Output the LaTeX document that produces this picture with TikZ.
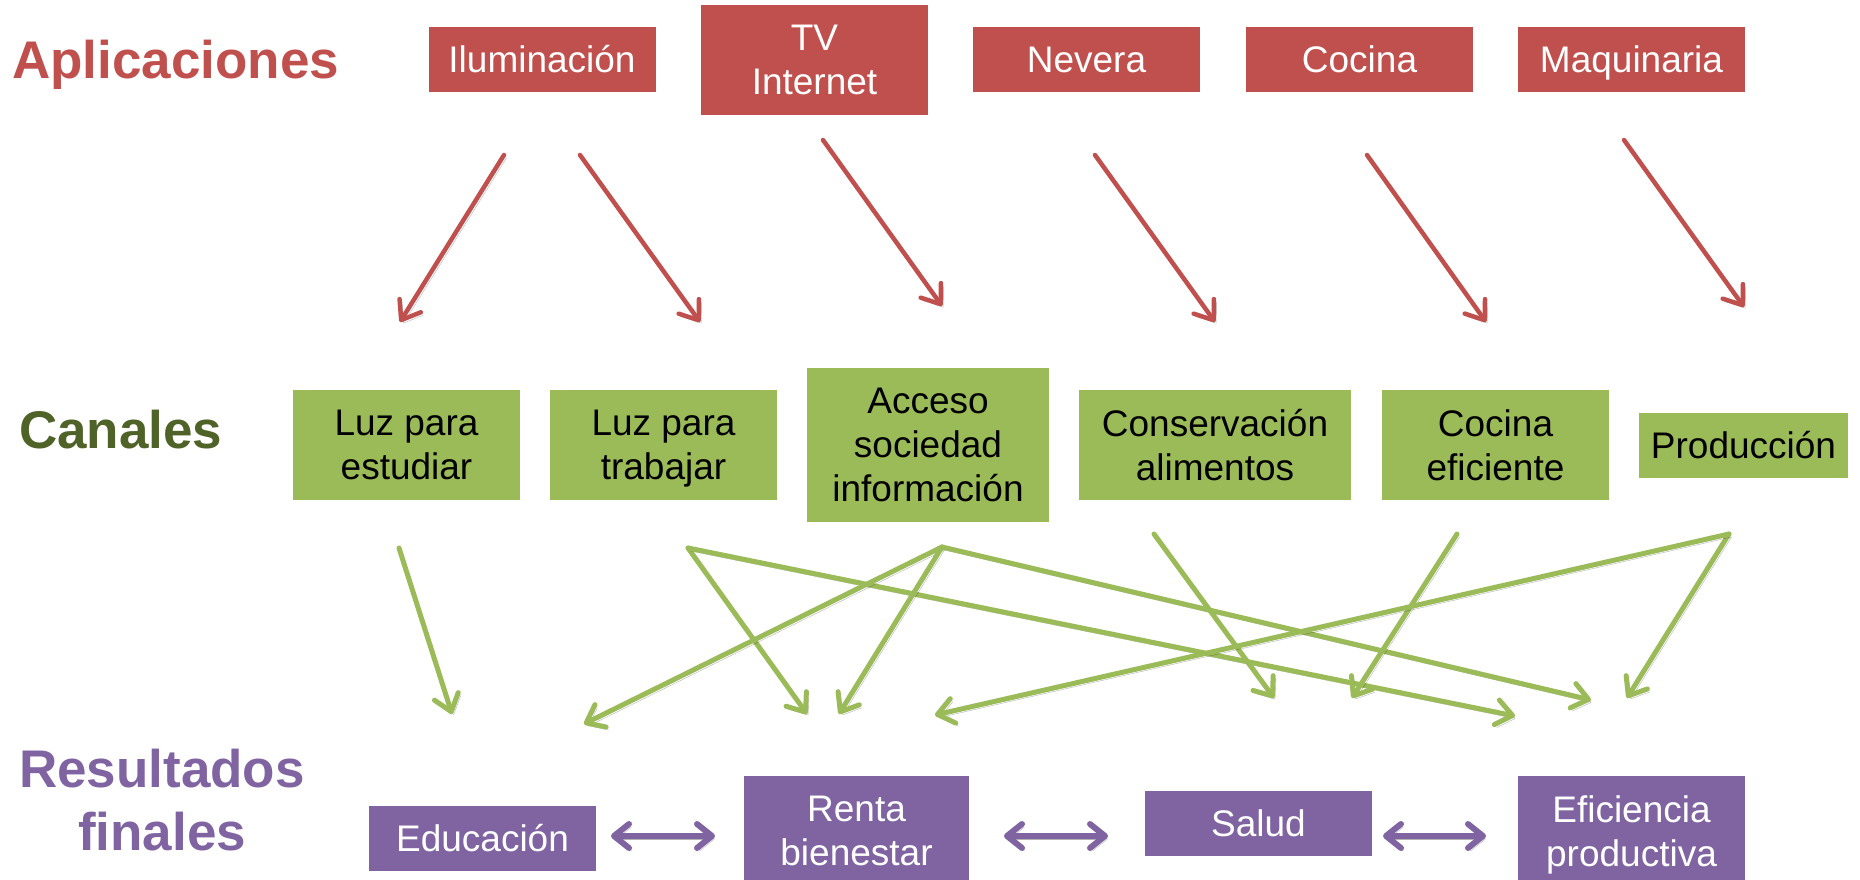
\documentclass[tikz,border=0pt]{standalone}
\usepackage{fontspec}
\setmainfont{Liberation Sans}
\usetikzlibrary{arrows.meta}
\definecolor{appred}{HTML}{C0504D}
\definecolor{chgreen}{HTML}{9BBB59}
\definecolor{chdark}{HTML}{4F6228}
\definecolor{respurple}{HTML}{8064A2}
\newcommand{\nodesc}[1]{\raisebox{0pt}[\height][0pt]{#1}}
\begin{document}
\begin{tikzpicture}[x=1pt,y=-1pt,
  box/.style={rectangle, inner sep=0pt, align=center, font=\fontsize{37}{44}\selectfont, minimum width=227pt, minimum height=65pt},
  redbox/.style={box, fill=appred, text=white},
  greenbox/.style={box, fill=chgreen, text=black, minimum height=110pt},
  purplebox/.style={box, fill=respurple, text=white},
  title/.style={font=\fontsize{53}{63}\selectfont\bfseries, inner sep=0pt},
  shadowed/.style={preaction={draw=black, opacity=0.3, transform canvas={shift={(2.5pt,-3pt)}}}},
  redarrow/.style={draw=appred, line width=4.5pt, line cap=round, -{Straight Barb[length=17pt,width=25pt,round]}, shadowed},
  greenarrow/.style={draw=chgreen, line width=5pt, line cap=round, -{Straight Barb[length=16pt,width=25pt,round]}, shadowed},
  purplearrow/.style={draw=respurple, line width=6pt, line cap=round, {Straight Barb[length=15pt,width=24pt,round]}-{Straight Barb[length=15pt,width=24pt,round]}, shadowed}
]
\useasboundingbox (0,0) rectangle (1860,880);

% titles
\node[title, text=appred, anchor=base west] (tapp) at (12,79) {Aplicaciones};
\node[title, text=chdark, anchor=base west] (tcan) at (19,448) {Canales};
\node[title, text=respurple, anchor=base] (tres1) at (162,787) {Resultados};
\node[title, text=respurple, anchor=base] (tres2) at (162,850) {finales};

% applications
\node[redbox] (ilum) at (542,59.5) {Iluminación};
\node[redbox, minimum height=110pt] (tv) at (814.5,60) {TV\\Internet};
\node[redbox] (nevera) at (1086.5,59.5) {Nevera};
\node[redbox] (cocina) at (1359.5,59.5) {Cocina};
\node[redbox] (maq) at (1631.5,59.5) {\nodesc{Maquinaria}};

% channels
\node[greenbox] (luzE) at (406.5,445) {Luz para\\estudiar};
\node[greenbox] (luzT) at (663.5,445) {Luz para\\\nodesc{trabajar}};
\node[greenbox, minimum width=242pt, minimum height=154pt] (acceso) at (928,445) {Acceso\\sociedad\\información};
\node[greenbox, minimum width=272pt] (conserv) at (1215,445) {Conservación\\alimentos};
\node[greenbox] (cocinaE) at (1495.5,445) {Cocina\\eficiente};
\node[greenbox, minimum width=209pt, minimum height=65pt] (prod) at (1743.5,445.5) {Producción};

% results
\node[purplebox] (edu) at (482.5,838) {Educación};
\node[purplebox, minimum width=225pt, minimum height=110pt] (renta) at (856.5,831) {Renta\\bienestar};
\node[purplebox] (salud) at (1258.5,823) {Salud};
\node[purplebox, minimum height=110pt] (efic) at (1631.5,831) {Eficiencia\\\nodesc{productiva}};

% arrow end points
\coordinate (ilumA) at (504,155);
\coordinate (ilumB) at (580,155);
\coordinate (tvA) at (823,140);
\coordinate (nevA) at (1095,155);
\coordinate (cocA) at (1367,155);
\coordinate (maqA) at (1624,140);
\coordinate (luzEin) at (400,322);
\coordinate (luzTin) at (700,322);
\coordinate (accin) at (942,306);
\coordinate (conin) at (1215,322);
\coordinate (cocEin) at (1486,322);
\coordinate (prodin) at (1744,307);

\coordinate (luzEout) at (399,548);
\coordinate (luzTout) at (688,548);
\coordinate (accout) at (942,547);
\coordinate (conout) at (1154,534);
\coordinate (cocEout) at (1457,534);
\coordinate (prodout) at (1729,534);

\coordinate (eduin1) at (452,714);
\coordinate (eduin2) at (584,724);
\coordinate (rentain1) at (807,714);
\coordinate (rentain2) at (839,714);
\coordinate (rentain3) at (935,715);
\coordinate (saludin1) at (1274,698);
\coordinate (saludin2) at (1352,698);
\coordinate (saludin3) at (1515,716);
\coordinate (eficin1) at (1591,700);
\coordinate (eficin2) at (1627,698);

\coordinate (p1a) at (611,836);
\coordinate (p1b) at (715,836);
\coordinate (p2a) at (1004,836);
\coordinate (p2b) at (1108,836);
\coordinate (p3a) at (1383,836);
\coordinate (p3b) at (1486,836);

% red arrows
\draw[redarrow] (ilumA) -- (luzEin);
\draw[redarrow] (ilumB) -- (luzTin);
\draw[redarrow] (tvA) -- (accin);
\draw[redarrow] (nevA) -- (conin);
\draw[redarrow] (cocA) -- (cocEin);
\draw[redarrow] (maqA) -- (prodin);

% green arrows
\draw[greenarrow] (luzEout) -- (eduin1);
\draw[greenarrow] (luzTout) -- (rentain1);
\draw[greenarrow] (luzTout) -- (saludin3);
\draw[greenarrow] (accout) -- (eduin2);
\draw[greenarrow] (accout) -- (rentain2);
\draw[greenarrow] (accout) -- (eficin1);
\draw[greenarrow] (conout) -- (saludin1);
\draw[greenarrow] (cocEout) -- (saludin2);
\draw[greenarrow] (prodout) -- (eficin2);
\draw[greenarrow] (prodout) -- (rentain3);

% purple arrows
\draw[purplearrow] (p1a) -- (p1b);
\draw[purplearrow] (p2a) -- (p2b);
\draw[purplearrow] (p3a) -- (p3b);
\end{tikzpicture}
\end{document}
